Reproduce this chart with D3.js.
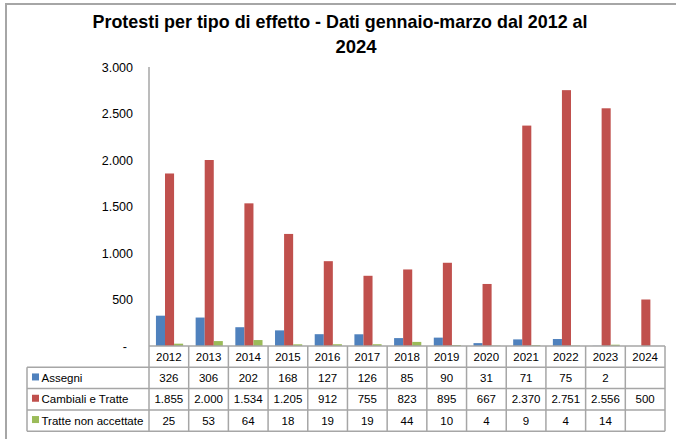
<!DOCTYPE html>
<html lang="it">
<head>
<meta charset="utf-8">
<title>Protesti per tipo di effetto</title>
<script src="https://cdn.jsdelivr.net/npm/d3@7"></script>
<style>
body { margin: 0; background: #fff; }
svg text { font-family: "Liberation Sans", Arial, sans-serif; fill: #000; }
.title { font-weight: bold; font-size: 18.5px; }
.tick text { font-size: 12.5px; font-family: "Liberation Sans", Arial, sans-serif; }
.cell { font-size: 11.5px; }
.leg { font-size: 11.5px; }
.grid { stroke: #a6a6a6; stroke-width: 1.5; fill: none; }
</style>
</head>
<body>
<div id="chart"></div>
<script>
// data
var years = ["2012","2013","2014","2015","2016","2017","2018","2019","2020","2021","2022","2023","2024"];
var series = ["Assegni", "Cambiali e Tratte", "Tratte non accettate"];
var assegni = [326, 306, 202, 168, 127, 126, 85, 90, 31, 71, 75, 2, null];
var cambiali = [1855, 2000, 1534, 1205, 912, 755, 823, 895, 667, 2370, 2751, 2556, 500];
var tratteNon = [25, 53, 64, 18, 19, 19, 44, 10, 4, 9, 4, 14, null];
var colors = ["#4f81bd", "#c0504d", "#9bbb59"];
var yTicks = [0, 500, 1000, 1500, 2000, 2500, 3000];

var values = [assegni, cambiali, tratteNon];

var svg = d3.select("#chart").append("svg")
  .attr("width", 676)
  .attr("height", 439);

// outer frame (runs off the right and bottom)
svg.append("path")
  .attr("d", "M6,445 V4 H690")
  .attr("stroke", "#a6a6a6")
  .attr("stroke-width", 2)
  .attr("fill", "none");

svg.append("text").attr("class", "title")
  .attr("x", 340).attr("y", 28)
  .attr("text-anchor", "middle")
  .attr("textLength", 495).attr("lengthAdjust", "spacingAndGlyphs")
  .text("Protesti per tipo di effetto - Dati gennaio-marzo dal 2012 al");
svg.append("text").attr("class", "title")
  .attr("x", 356).attr("y", 53)
  .attr("text-anchor", "middle")
  .text("2024");

var plotL = 149, plotR = 665, plotT = 67, plotB = 346;
var rowH = 21.3;

var x = d3.scaleBand().domain(years).range([plotL, plotR]).padding(0);
var bw = x.bandwidth();
var x1 = d3.scaleBand().domain(series).range([bw * 0.175, bw * 0.86]).padding(0);
var y = d3.scaleLinear().domain([0, 3000]).range([plotB, plotT]);

// y axis labels
var fmt = function(v) { return v === 0 ? "-" : d3.format(",")(v).replace(/,/g, "."); };
var yAxis = svg.append("g")
  .attr("transform", "translate(" + plotL + ",0)")
  .call(d3.axisLeft(y).tickValues(yTicks).tickSize(0).tickPadding(16).tickFormat(fmt));
yAxis.select(".domain").remove();
yAxis.selectAll(".tick").filter(function(d) { return d === 0; }).select("text").attr("dx", -6);

svg.append("line").attr("class", "grid")
  .attr("x1", plotL).attr("x2", plotL).attr("y1", plotT).attr("y2", plotB);

// bars
series.forEach(function(s, si) {
  svg.append("g").selectAll("rect")
    .data(years.map(function(yr, i) { return { yr: yr, v: values[si][i] }; }).filter(function(d) { return d.v != null; }))
    .enter().append("rect")
    .attr("x", function(d) { return x(d.yr) + x1(s); })
    .attr("width", x1.bandwidth())
    .attr("y", function(d) { return y(d.v); })
    .attr("height", function(d) { return plotB - y(d.v); })
    .attr("fill", colors[si]);
});

// data table
var tbl = svg.append("g");
var legLeft = 27;
var tblBottom = plotB + rowH * 4;

// horizontal lines
tbl.append("line").attr("class", "grid").attr("x1", plotL).attr("x2", plotR).attr("y1", plotB).attr("y2", plotB);
for (var r = 1; r <= 4; r++) {
  tbl.append("line").attr("class", "grid")
    .attr("x1", legLeft).attr("x2", plotR)
    .attr("y1", plotB + rowH * r).attr("y2", plotB + rowH * r);
}
// vertical lines
years.forEach(function(yr) {
  tbl.append("line").attr("class", "grid")
    .attr("x1", x(yr)).attr("x2", x(yr)).attr("y1", plotB).attr("y2", tblBottom);
});
tbl.append("line").attr("class", "grid").attr("x1", plotR).attr("x2", plotR).attr("y1", plotB).attr("y2", tblBottom);
tbl.append("line").attr("class", "grid").attr("x1", legLeft).attr("x2", legLeft).attr("y1", plotB + rowH).attr("y2", tblBottom);

// year header
tbl.selectAll(".yr").data(years).enter().append("text")
  .attr("class", "cell")
  .attr("x", function(d) { return x(d) + bw / 2; })
  .attr("y", plotB + rowH / 2 + 4)
  .attr("text-anchor", "middle")
  .text(function(d) { return d; });

var numFmt = function(v) { return d3.format(",")(v).replace(/,/g, "."); };

series.forEach(function(s, si) {
  var ry = plotB + rowH * (si + 1);
  tbl.append("rect")
    .attr("x", 32).attr("y", ry + rowH / 2 - 4.5)
    .attr("width", 7).attr("height", 7)
    .attr("fill", colors[si]);
  tbl.append("text").attr("class", "leg")
    .attr("x", 41.5).attr("y", ry + rowH / 2 + 4)
    .text(s);
  tbl.append("g").selectAll("text")
    .data(years.map(function(yr, i) { return { yr: yr, v: values[si][i] }; }).filter(function(d) { return d.v != null; }))
    .enter().append("text")
    .attr("class", "cell")
    .attr("x", function(d) { return x(d.yr) + bw / 2; })
    .attr("y", ry + rowH / 2 + 4)
    .attr("text-anchor", "middle")
    .text(function(d) { return numFmt(d.v); });
});
</script>
</body>
</html>
